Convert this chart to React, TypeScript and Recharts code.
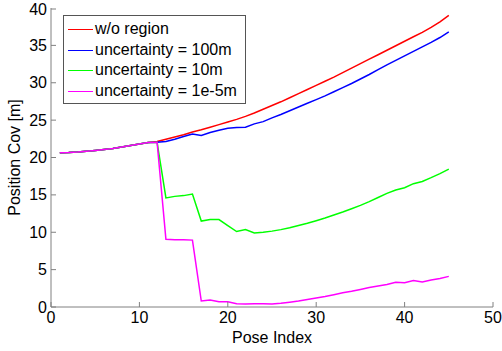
import { LineChart, Line, XAxis, YAxis, Legend } from 'recharts';

// pose indices 1..45
const poseIndex = [
  1, 2, 3, 4, 5, 6, 7, 8, 9, 10, 11, 12, 13, 14, 15, 16, 17, 18, 19, 20, 21, 22, 23,
  24, 25, 26, 27, 28, 29, 30, 31, 32, 33, 34, 35, 36, 37, 38, 39, 40, 41, 42, 43, 44, 45,
];

// poses 1-11 are identical for every run
const sharedStart = [20.65, 20.68, 20.75, 20.85, 20.95, 21.07, 21.2, 21.4, 21.6, 21.8, 22.0];

const noRegion = [
  22.15, 22.45, 22.75, 23.05, 23.4, 23.7, 24.05, 24.4, 24.75, 25.1, 25.5, 25.95, 26.45,
  26.95, 27.45, 28.0, 28.55, 29.1, 29.65, 30.2, 30.75, 31.35, 31.95, 32.55, 33.15, 33.75,
  34.35, 34.95, 35.55, 36.15, 36.75, 37.4, 38.15, 39.0,
];
const unc100m = [
  22.05, 22.15, 22.45, 22.8, 23.15, 22.95, 23.35, 23.65, 23.9, 24.0, 24.05, 24.5, 24.8,
  25.3, 25.75, 26.25, 26.75, 27.25, 27.75, 28.25, 28.8, 29.35, 29.9, 30.5, 31.1, 31.75,
  32.4, 33.0, 33.6, 34.2, 34.8, 35.4, 36.05, 36.8,
];
const unc10m = [
  22.05, 14.6, 14.8, 14.9, 15.1, 11.5, 11.7, 11.7, 10.9, 10.1, 10.35, 9.9, 10.0, 10.15,
  10.35, 10.6, 10.9, 11.2, 11.55, 11.9, 12.3, 12.7, 13.15, 13.6, 14.1, 14.65, 15.2, 15.65,
  15.95, 16.5, 16.8, 17.3, 17.85, 18.45,
];
const unc1e5m = [
  22.05, 9.05, 9.0, 9.0, 8.95, 0.8, 0.95, 0.7, 0.7, 0.45, 0.4, 0.45, 0.45, 0.4, 0.5, 0.65,
  0.8, 1.0, 1.2, 1.4, 1.65, 1.9, 2.1, 2.35, 2.6, 2.8, 3.0, 3.3, 3.25, 3.55, 3.35, 3.6, 3.8,
  4.1,
];

const xTicks = [0, 10, 20, 30, 40, 50];
const yTicks = [0, 5, 10, 15, 20, 25, 30, 35, 40];

const series = [
  { key: 'noRegion', name: 'w/o region', color: '#ff0000', values: noRegion },
  { key: 'unc100m', name: 'uncertainty = 100m', color: '#0000ff', values: unc100m },
  { key: 'unc10m', name: 'uncertainty = 10m', color: '#00ff00', values: unc10m },
  { key: 'unc1e5m', name: 'uncertainty = 1e-5m', color: '#ff00ff', values: unc1e5m },
];

const data = poseIndex.map((p, i) => {
  const row: Record<string, number> = { pose: p };
  series.forEach((s) => {
    row[s.key] = [...sharedStart, ...s.values][i];
  });
  return row;
});

const FONT = '"Liberation Sans", Arial, Helvetica, sans-serif';
const AXIS = '#808080';

function YTick({ x, y, payload }: any) {
  return (
    <g>
      <line x1={x} y1={y} x2={x + 5} y2={y} stroke={AXIS} />
      <text x={x - 4} y={y} textAnchor="end" dominantBaseline="central" fontSize={16} fill="#000" fontFamily={FONT}>
        {payload.value}
      </text>
    </g>
  );
}

function XTick({ x, y, payload }: any) {
  return (
    <g>
      <line x1={x} y1={y} x2={x} y2={y - 5} stroke={AXIS} />
      <text x={x} y={y + 4} dy="0.72em" textAnchor="middle" fontSize={16} fill="#000" fontFamily={FONT}>
        {payload.value}
      </text>
    </g>
  );
}

function LegendBox() {
  return (
    <div
      style={{
        border: '1px solid #555',
        background: '#fff',
        padding: '3px 8px 1px 4px',
        fontFamily: FONT,
        fontSize: 16,
        color: '#000',
        lineHeight: '20.7px',
      }}
    >
      {series.map((s) => (
        <div key={s.key} style={{ display: 'flex', alignItems: 'center', whiteSpace: 'nowrap' }}>
          <span style={{ display: 'inline-block', width: 25, height: 0, borderTop: `1.5px solid ${s.color}`, marginRight: 2 }} />
          {s.name}
        </div>
      ))}
    </div>
  );
}

export default function App() {
  return (
    <div style={{ position: 'absolute', left: 0, top: 0, background: '#fff' }}>
      <LineChart width={502} height={351} data={data} margin={{ top: 8, right: 9, bottom: 0, left: 0 }}>
        <XAxis
          dataKey="pose"
          type="number"
          domain={[0, 50]}
          ticks={xTicks}
          height={44}
          stroke={AXIS}
          tickLine={false}
          tickSize={0}
          tickMargin={0}
          tick={<XTick />}
          label={{ value: 'Pose Index', position: 'insideBottom', offset: 8, fontSize: 16, fill: '#000', fontFamily: FONT }}
        />
        <YAxis
          type="number"
          domain={[0, 40]}
          ticks={yTicks}
          width={51}
          stroke={AXIS}
          tickLine={false}
          tickSize={0}
          tickMargin={0}
          tick={<YTick />}
          label={{ value: 'Position Cov [m]', angle: -90, position: 'insideLeft', offset: 14, fontSize: 16, fill: '#000', fontFamily: FONT, style: { textAnchor: 'middle' } }}
        />
        <Legend
          layout="vertical"
          align="center"
          verticalAlign="middle"
          content={<LegendBox />}
          wrapperStyle={{ left: 63, top: 15, width: 'auto' }}
        />
        {series.map((s) => (
          <Line
            key={s.key}
            dataKey={s.key}
            name={s.name}
            stroke={s.color}
            strokeWidth={1.5}
            dot={false}
            activeDot={false}
            isAnimationActive={false}
          />
        ))}
      </LineChart>
    </div>
  );
}
